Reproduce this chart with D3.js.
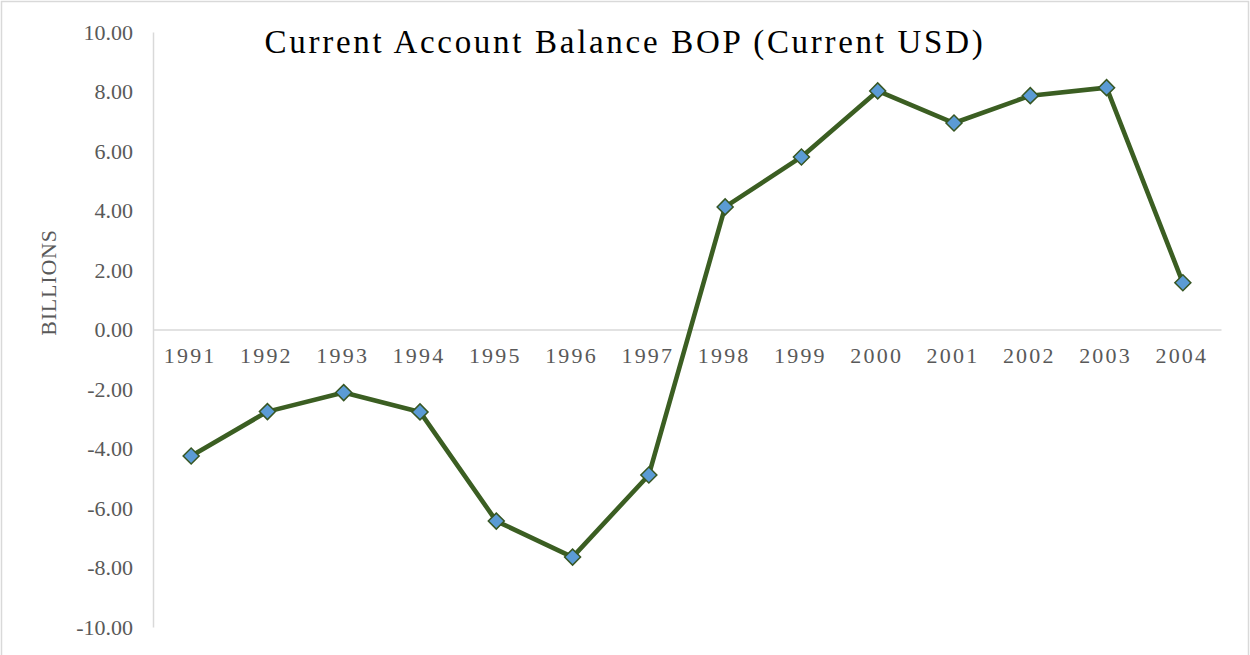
<!DOCTYPE html>
<html>
<head>
<meta charset="utf-8">
<script src="https://cdn.jsdelivr.net/npm/d3@7"></script>
<style>
  html, body { margin: 0; padding: 0; background: #fff; }
  svg { display: block; }
</style>
</head>
<body>
<svg id="chart" width="1250" height="655"></svg>
<script>
// Current account balance, billions of current USD
const years = ["1991","1992","1993","1994","1995","1996","1997","1998","1999","2000","2001","2002","2003","2004"];
const balance = [-4.25, -2.76, -2.12, -2.77, -6.44, -7.65, -4.89, 4.12, 5.80, 8.02, 6.94, 7.86, 8.13, 1.57];
const yTicks = [10, 8, 6, 4, 2, 0, -2, -4, -6, -8, -10];

const svg = d3.select("#chart");
const W = 1250, H = 655;
const plot = { left: 153, right: 1221, top: 32, bottom: 627 };
const serif = "'Liberation Serif', 'Times New Roman', serif";

// chart frame
svg.append("rect")
  .attr("x", 1.5).attr("y", 1.5)
  .attr("width", W - 3).attr("height", H + 10)
  .attr("fill", "#fff").attr("stroke", "#d9d9d9").attr("stroke-width", 1.5);

const x = d3.scaleBand().domain(years).range([plot.left, plot.right]);
const y = d3.scaleLinear().domain([-10, 10]).range([plot.bottom, plot.top]);

// plain hyphen for negatives, two decimals
const fmt = d => d3.format(".2f")(d).replace("\u2212", "-");

// vertical axis
const yAxis = svg.append("g")
  .attr("transform", `translate(${plot.left},0)`)
  .call(d3.axisLeft(y).tickValues(yTicks).tickFormat(fmt).tickSize(0).tickPadding(20));
yAxis.select(".domain").attr("stroke", "#d9d9d9").attr("stroke-width", 1.5);
yAxis.selectAll("text")
  .attr("font-family", serif)
  .attr("font-size", 22).attr("fill", "#595959");

// horizontal axis along zero
const xAxis = svg.append("g")
  .attr("transform", `translate(0,${y(0)})`)
  .call(d3.axisBottom(x).tickSize(0).tickPadding(18));
xAxis.select(".domain").attr("stroke", "#d9d9d9").attr("stroke-width", 1.5);
xAxis.selectAll("text")
  .attr("font-family", serif)
  .attr("font-size", 22).attr("fill", "#595959")
  .attr("letter-spacing", "2.2px")
  .attr("dx", "-1px");

// axis title
svg.append("text")
  .attr("transform", `translate(56,282.5) rotate(-90)`)
  .attr("text-anchor", "middle")
  .attr("font-family", serif)
  .attr("font-size", 22).attr("fill", "#595959")
  .attr("letter-spacing", "0.8px")
  .text("BILLIONS");

// chart title
svg.append("text")
  .attr("x", 625).attr("y", 53)
  .attr("text-anchor", "middle")
  .attr("font-family", serif)
  .attr("font-size", 33).attr("fill", "#000")
  .attr("letter-spacing", "2.7px")
  .text("Current Account Balance BOP (Current USD)");

const cx = (d, i) => x(years[i]) + x.bandwidth() / 2;

// series line
const line = d3.line().x((d, i) => cx(d, i)).y(d => y(d));
svg.append("path")
  .datum(balance)
  .attr("d", line)
  .attr("fill", "none")
  .attr("stroke", "#3b5e22")
  .attr("stroke-width", 4.6)
  .attr("stroke-linejoin", "round");

// diamond markers
const diamond = d3.symbol().type(d3.symbolSquare).size(128);
svg.append("g").selectAll("path")
  .data(balance)
  .join("path")
  .attr("d", diamond)
  .attr("transform", (d, i) => `translate(${cx(d, i)},${y(d)}) rotate(45)`)
  .attr("fill", "#5b9bd5")
  .attr("stroke", "#375623")
  .attr("stroke-width", 1.5);
</script>
</body>
</html>
